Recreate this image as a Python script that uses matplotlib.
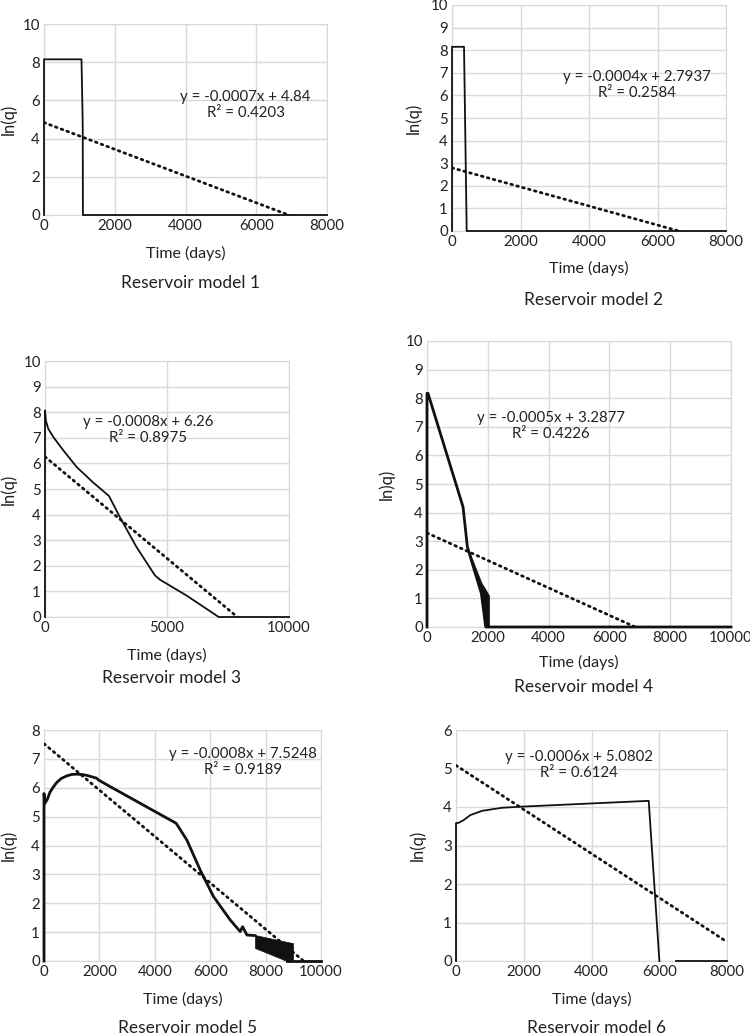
import numpy as np
import matplotlib
matplotlib.use('Agg')
import matplotlib.pyplot as plt
import matplotlib as mpl

mpl.rcParams['font.family'] = ['Lato', 'DejaVu Sans']

# reservoir model 1
m1_x = [0, 0, 1060, 1090, 1095, 1100, 8000]
m1_y = [0, 8.15, 8.15, 5.2, 4.5, 0, 0]
# reservoir model 2
m2_x = [0, 0, 351, 429, 8000]
m2_y = [0, 8.15, 8.15, 0, 0]
# reservoir model 3
m3_x = [0, 0, 40, 136, 341, 750, 1296, 1978, 2620, 3070, 3752, 4502, 4707, 5798, 7121, 10000]
m3_y = [0, 8.07, 7.65, 7.35, 7.03, 6.51, 5.86, 5.25, 4.73, 3.9, 2.73, 1.63, 1.46, 0.84, 0, 0]
# reservoir model 4
m4_x = [0, 0, 33, 1185, 1328, 1789, 1932, 10000]
m4_y = [0, 8.17, 8.17, 4.2, 2.8, 1.17, 0, 0]
m4_band_x = [1328, 1789, 1932, 2040]
m4_band_lo = [2.8, 1.17, 0, 0]
m4_band_hi = [2.8, 1.55, 1.3, 1.1]
# reservoir model 5
m5_x = [0, 0, 30, 120, 217, 340, 458, 620, 819, 1000, 1181, 1360, 1542, 1720, 1904, 1964,
        2386, 4771, 5157, 5639, 6120, 6723, 7084, 7169, 7325, 7617]
m5_y = [0, 5.8, 5.46, 5.6, 5.85, 6.03, 6.18, 6.32, 6.41, 6.46, 6.47, 6.46, 6.43, 6.38, 6.33,
        6.27, 6.04, 4.77, 4.19, 3.15, 2.23, 1.42, 1.02, 1.19, 0.9, 0.88]
m5_band_x = [7617, 8770, 8990]
m5_band_lo = [0.45, 0, 0]
m5_band_hi = [0.9, 0.66, 0.62]
m5_tail_x = [8770, 10000]
m5_tail_y = [0, 0]
# reservoir model 6 (gap in data between 6004 and 6496)
m6_x = [0, 0, 79, 226, 423, 768, 1358, 1949, 5689, 6004, np.nan, 6496, 8000]
m6_y = [0, 3.58, 3.59, 3.66, 3.79, 3.9, 3.98, 4.01, 4.16, 0, np.nan, 0, 0]

# trend lines as drawn (slope, intercept) and their labels
trend_slope = [-0.0007, -0.000422, -0.000794, -0.00048, -0.000803, -0.000573]
trend_icpt = [4.84, 2.7937, 6.26, 3.2877, 7.5248, 5.0802]
trend_text = ['y = -0.0007x + 4.84\nR² = 0.4203',
              'y = -0.0004x + 2.7937\nR² = 0.2584',
              'y = -0.0008x + 6.26\nR² = 0.8975',
              'y = -0.0005x + 3.2877\nR² = 0.4226',
              'y = -0.0008x + 7.5248\nR² = 0.9189',
              'y = -0.0006x + 5.0802\nR² = 0.6124']
text_pos = [(5700, 5.75), (5400, 6.45), (4220, 7.32), (4080, 7.04), (7180, 6.9), (3630, 5.09)]
ylabels = ['ln(q)', 'ln(q)', 'ln(q)', 'ln)q)', 'ln(q)', 'ln(q)']
captions = ['Reservoir model 1', 'Reservoir model 2', 'Reservoir model 3',
            'Reservoir model 4', 'Reservoir model 5', 'Reservoir model 6']

W, H = 750, 1035
fig = plt.figure(figsize=(7.5, 10.35), dpi=100)

# axes boxes in pixels: left, right, top, bottom
boxes = [(44, 327, 24, 215), (452, 726, 5, 231), (45, 289, 361, 617),
         (427, 731, 341, 627), (44, 321, 730, 961), (456, 727, 730, 961)]
xmax = [8000, 8000, 10000, 10000, 10000, 8000]
xstep = [2000, 2000, 5000, 2000, 2000, 2000]
ymax = [10, 10, 10, 10, 8, 6]
ystep = [2, 1, 1, 1, 1, 1]
xlab_y = [253, 268, 655, 662, 999, 999]
cap_y = [283, 300, 678, 687, 1028, 1028]
ylab_x = [8, 413, 8, 386, 8, 417]
lws = [1.3, 1.3, 1.3, 2.0, 2.0, 1.3]

series = [(m1_x, m1_y), (m2_x, m2_y), (m3_x, m3_y), (m4_x, m4_y), (m5_x, m5_y), (m6_x, m6_y)]

for i in range(6):
    l, r, t, b = boxes[i]
    ax = fig.add_axes([l / W, 1 - b / H, (r - l) / W, (b - t) / H])
    ax.set_xlim(0, xmax[i])
    ax.set_ylim(0, ymax[i])
    ax.set_xticks(np.arange(0, xmax[i] + 1, xstep[i]))
    ax.set_yticks(np.arange(0, ymax[i] + 1, ystep[i]))
    ax.grid(True, color='#d9d9d9', lw=1.0)
    ax.set_axisbelow(True)
    for s in ax.spines.values():
        s.set_color('#d9d9d9')
    ax.tick_params(length=0, labelsize=10.8, colors='#222222', pad=3)

    x, y = series[i]
    ax.plot(x, y, color='#111111', lw=lws[i], clip_on=False, zorder=3)
    if i == 3:
        ax.fill_between(m4_band_x, m4_band_lo, m4_band_hi, color='#111111', lw=0.5, zorder=3)
    if i == 4:
        ax.fill_between(m5_band_x, m5_band_lo, m5_band_hi, color='#111111', lw=0.5, zorder=3)
        ax.plot(m5_tail_x, m5_tail_y, color='#111111', lw=lws[i], clip_on=False, zorder=3)

    tx = np.array([0, xmax[i]])
    ax.plot(tx, trend_slope[i] * tx + trend_icpt[i], color='#111111', lw=2.0,
            linestyle=(0, (0.6, 1.6)), dash_capstyle='round', zorder=4)

    ax.text(text_pos[i][0], text_pos[i][1], trend_text[i], ha='center', va='center',
            fontsize=10.8, color='#222222', linespacing=1.2, zorder=5)

    fig.text(ylab_x[i] / W, 1 - ((t + b) / 2) / H, ylabels[i], rotation=90,
             ha='center', va='center', fontsize=12, color='#222222')
    fig.text(((l + r) / 2) / W, 1 - xlab_y[i] / H, 'Time (days)', ha='center',
             va='center', fontsize=11.5, color='#222222')
    fig.text(((l + r) / 2 + 5) / W, 1 - cap_y[i] / H, captions[i], ha='center',
             va='center', fontsize=12.5, color='#222222')

fig.savefig('out.png', dpi=100, facecolor='white')
